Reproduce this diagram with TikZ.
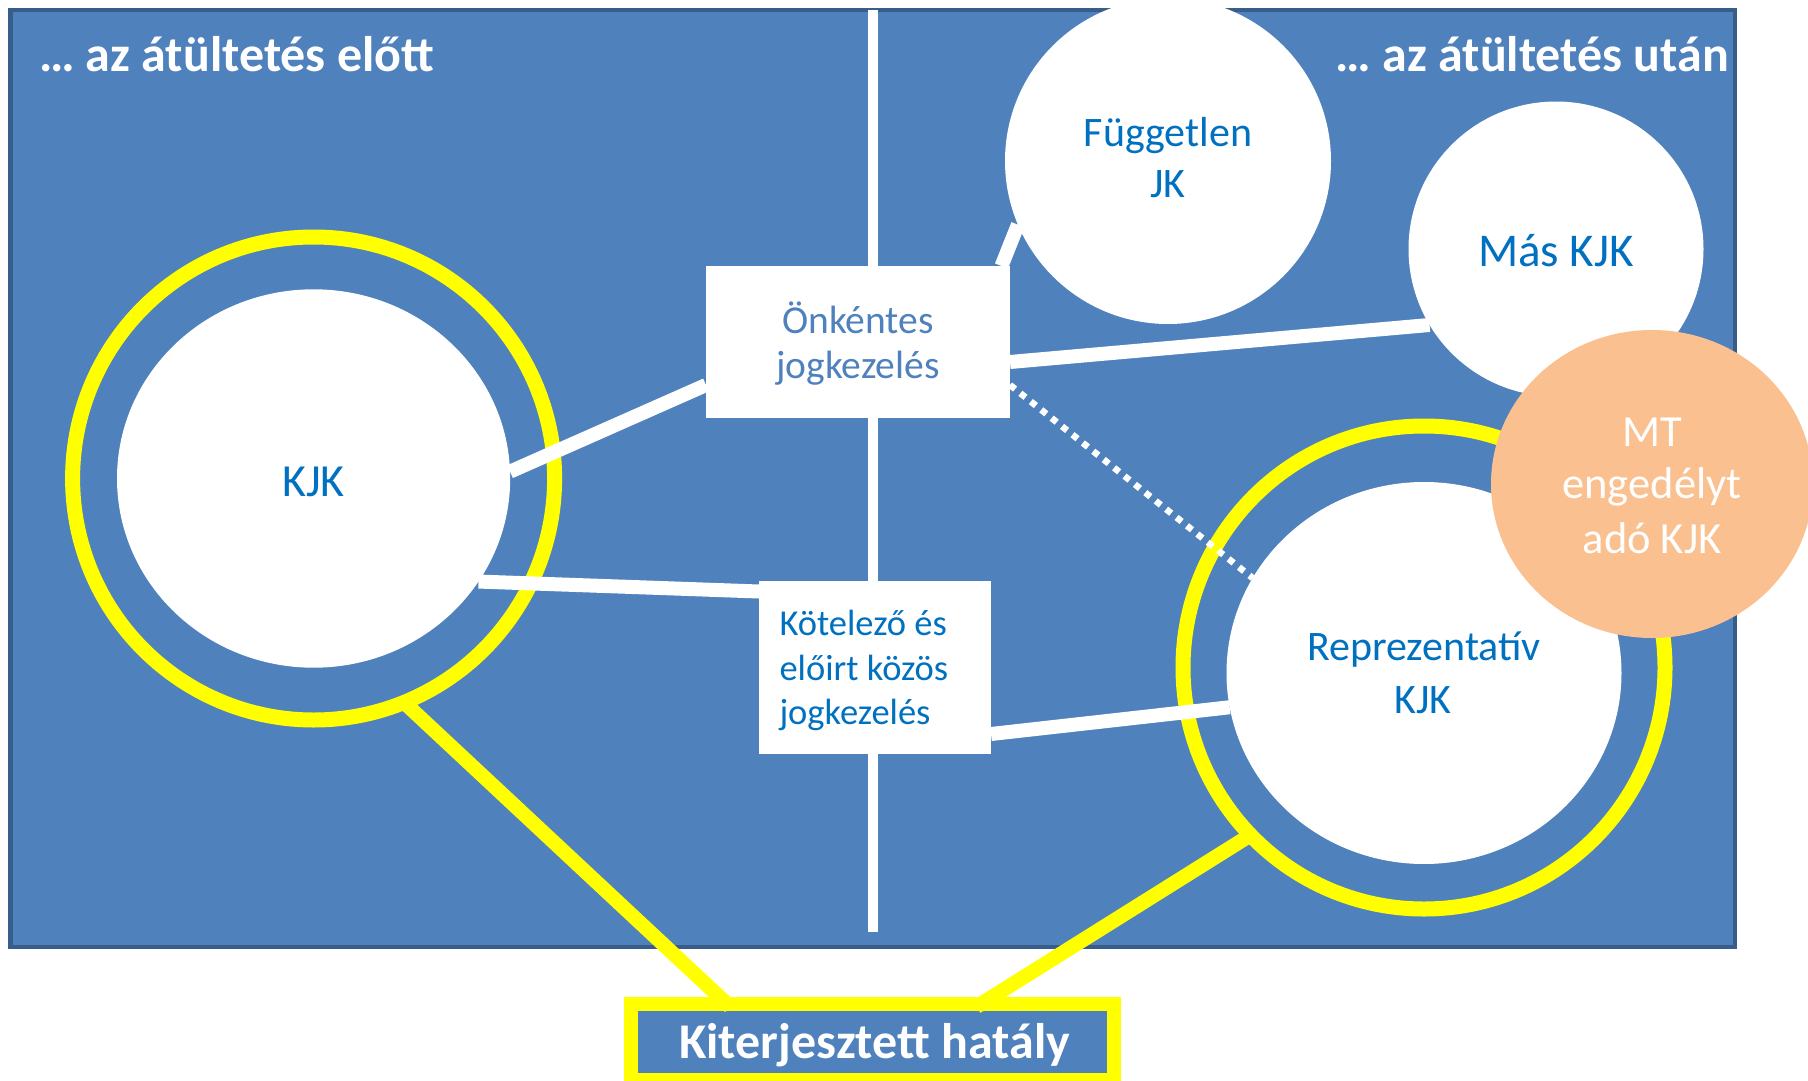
\documentclass[tikz,border=0pt]{standalone}
\usepackage{fontspec}
\setmainfont{Carlito}
\usetikzlibrary{shapes.geometric,calc}
\definecolor{panelblue}{HTML}{4F81BD}
\definecolor{panelborder}{HTML}{385D8A}
\definecolor{txtblue}{HTML}{0070C0}
\definecolor{softblue}{HTML}{4F81BD}
\definecolor{orangefill}{HTML}{FAC090}
\definecolor{ylw}{HTML}{FFFF00}
\tikzset{
  ell/.style={ellipse, inner sep=0pt, outer sep=0pt, draw=none},
  whitebox/.style={rectangle, inner sep=0pt, outer sep=0pt, fill=white, draw=none},
  ring/.style={ellipse, inner sep=0pt, outer sep=0pt, draw=ylw, line width=15pt, fill=none},
  conn/.style={white, line width=14pt},
  dotconn/.style={white, line width=6.5pt, dash pattern=on 6.5pt off 6.8pt},
  yconn/.style={ylw, line width=14.5pt},
  lbl/.style={inner sep=0pt, outer sep=0pt, anchor=base},
  fA/.style={font=\fontsize{42}{50}\selectfont},
  ftitle/.style={font=\fontsize{50}{60}\selectfont\bfseries},
}
\begin{document}
\begin{tikzpicture}[x=1pt,y=-1pt]
\useasboundingbox (0,0) rectangle (1808,1081);
\clip (0,0) rectangle (1808,1081);
% panel
\node[rectangle, inner sep=0pt, outer sep=0pt, fill=panelblue, draw=panelborder, line width=4.5pt,
      minimum width=1724.6pt, minimum height=937pt] (panel) at (872.7,478.5) {};
% divider
\draw[white, line width=10pt] (873,10) -- (873,932);
% circles
\node[ell, fill=white, minimum width=326pt, minimum height=326pt] (fug) at (1168,161) {};
\node[ell, fill=white, minimum width=295pt, minimum height=295pt] (mas) at (1556,249) {};
\node[ring, minimum width=482pt, minimum height=483pt] (kjkring) at (313.6,478.5) {};
\node[ring, minimum width=482pt, minimum height=483pt] (repring) at (1424,667.5) {};
\node[ell, fill=white, minimum width=393.2pt, minimum height=378.4pt] (kjk) at (313.6,478.5) {};
\node[ell, fill=white, minimum width=395pt, minimum height=382pt] (rep) at (1424,673) {};
% boxes
\node[whitebox, minimum width=304pt, minimum height=152pt] (onk) at (858,342) {};
\node[whitebox, minimum width=232pt, minimum height=173pt] (kot) at (875,667.5) {};
% white connectors
\draw[conn] (kjk.2) -- ([yshift=-43pt]onk.west);
\draw[conn] (kjk.-32.6) -- ([yshift=76pt]kot.west);
\draw[conn] ([yshift=-20pt]onk.east) -- (mas.211.6);
\draw[conn] ([xshift=-8.5pt]onk.north east) -- (fug.203.5);
\draw[dotconn] ([yshift=-43pt]onk.east) -- (rep.151.4);
\draw[conn] ([yshift=-66.5pt]kot.east) -- (rep.190.2);
% Kiterjesztett box
\node[rectangle, inner sep=0pt, outer sep=0pt, fill=panelblue, draw=ylw, line width=14pt,
      minimum width=483pt, minimum height=76.6pt] (kit) at (872.5,1042) {};
\draw[yconn] (kjkring.-68) -- ([xshift=-142.5pt,yshift=-3pt]kit.north);
\draw[yconn] (repring.-136.2) -- ([xshift=104pt,yshift=-3pt]kit.north);
% orange circle
\node[ell, fill=orangefill, minimum width=322pt, minimum height=308pt] (mt) at (1652,484) {};
% texts
\node[lbl, anchor=base west, text=white, ftitle] (tleft) at (39,72) {… az átültetés előtt};
\node[lbl, anchor=base east, text=white, ftitle] (tright) at (1729,72) {… az átültetés után};
\node[lbl, fA, text=txtblue] (fug1) at (1168,146.7) {Független};
\node[lbl, fA, text=txtblue] (fug2) at (1168,197.3) {JK};
\node[lbl, text=txtblue, font=\fontsize{47}{56}\selectfont] (mas1) at (1556,266.7) {Más KJK};
\node[lbl, text=txtblue, font=\fontsize{46}{55}\selectfont] (kjk1) at (313.6,496) {KJK};
\node[lbl, text=softblue, font=\fontsize{39.5}{47}\selectfont] (onk1) at (858,333.3) {Önkéntes};
\node[lbl, text=softblue, font=\fontsize{39.5}{47}\selectfont] (onk2) at (858,378.3) {jogkezelés};
\node[lbl, anchor=base west, text=txtblue, font=\fontsize{36.5}{44}\selectfont] (kot1) at (779.5,635.7) {Kötelező és};
\node[lbl, anchor=base west, text=txtblue, font=\fontsize{36.5}{44}\selectfont] (kot2) at (779.5,680) {előirt közös};
\node[lbl, anchor=base west, text=txtblue, font=\fontsize{36.5}{44}\selectfont] (kot3) at (779.5,724.3) {jogkezelés};
\node[lbl, fA, text=txtblue] (rep1) at (1424,660) {Reprezentatív};
\node[lbl, fA, text=txtblue] (rep2) at (1423,713.3) {KJK};
\node[lbl, text=white, font=\fontsize{44.5}{53}\selectfont] (mt1) at (1652,446) {MT};
\node[lbl, text=white, font=\fontsize{44.5}{53}\selectfont] (mt2) at (1652,498.3) {engedélyt};
\node[lbl, text=white, font=\fontsize{44.5}{53}\selectfont] (mt3) at (1652,553.3) {adó KJK};
\node[lbl, text=white, font=\fontsize{50}{60}\selectfont\bfseries] (kit1) at (874.7,1058.3) {Kiterjesztett hatály};
\end{tikzpicture}
\end{document}
